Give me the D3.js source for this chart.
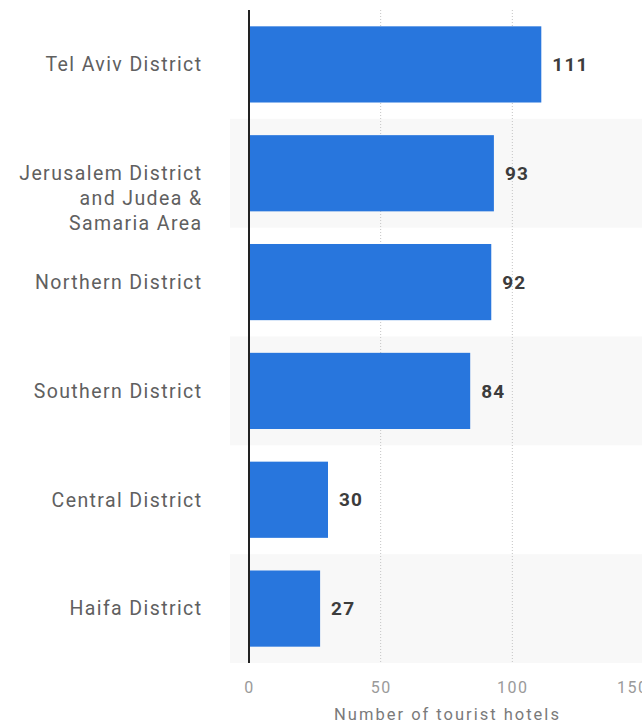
<!DOCTYPE html>
<html>
<head>
<meta charset="utf-8">
<script src="https://cdn.jsdelivr.net/npm/d3@7"></script>
<style>
  body { margin: 0; background: #fff; }
  svg { display: block; font-family: Roboto, "Noto Sans", sans-serif; }
</style>
</head>
<body>
<svg id="chart" width="642" height="723"></svg>
<script>
const districts = [
  ["Tel Aviv District"],
  ["Jerusalem District", "and Judea &", "Samaria Area"],
  ["Northern District"],
  ["Southern District"],
  ["Central District"],
  ["Haifa District"]
]
const hotels = [111, 93, 92, 84, 30, 27]
const xTicks = [0, 50, 100, 150]
const axisTitle = "Number of tourist hotels"

const svg = d3.select("#chart")
const plotLeft = 249, plotTop = 10, plotBottom = 663

const x = d3.scaleLinear().domain([0, 150]).range([plotLeft, 644])
const y = d3.scaleBand()
  .domain(d3.range(districts.length))
  .range([plotTop, plotBottom])
  .paddingInner(0.3)
  .paddingOuter(0.15)
const step = y.step()

// alternating row bands
svg.append("g")
  .selectAll("rect")
  .data(d3.range(districts.length).filter(i => i % 2 === 1))
  .enter()
  .append("rect")
  .attr("x", 230)
  .attr("y", i => y(i) - step * 0.15)
  .attr("width", 642 - 230)
  .attr("height", step)
  .attr("fill", "#f8f8f8")

// dotted gridlines
svg.append("g")
  .selectAll("line")
  .data(xTicks.slice(1))
  .enter()
  .append("line")
  .attr("x1", d => x(d))
  .attr("x2", d => x(d))
  .attr("y1", plotTop)
  .attr("y2", plotBottom)
  .attr("stroke", "#c4c4c4")
  .attr("stroke-width", 1)
  .attr("stroke-dasharray", "1,2")

// bars
svg.append("g")
  .selectAll("rect")
  .data(hotels)
  .enter()
  .append("rect")
  .attr("x", x(0))
  .attr("y", (d, i) => y(i))
  .attr("width", d => x(d) - x(0))
  .attr("height", y.bandwidth())
  .attr("fill", "#2876dd")

// value labels
svg.append("g")
  .selectAll("text")
  .data(hotels)
  .enter()
  .append("text")
  .attr("x", d => x(d) + 11)
  .attr("y", (d, i) => y(i) + y.bandwidth() / 2)
  .attr("dy", "0.35em")
  .attr("font-size", 19)
  .attr("font-weight", "bold")
  .attr("letter-spacing", 1.2)
  .attr("fill", "#3c3c3c")
  .text(d => d)

// category labels: first line at the bar centre, extra lines below it
const cat = svg.append("g")
  .selectAll("text")
  .data(districts)
  .enter()
  .append("text")
  .attr("text-anchor", "end")
  .attr("font-size", 19.5)
  .attr("letter-spacing", 1.4)
  .attr("fill", "#606060")
  .attr("y", (d, i) => y(i) + y.bandwidth() / 2)

cat.selectAll("tspan")
  .data(d => d)
  .enter()
  .append("tspan")
  .attr("x", 202.5)
  .attr("dy", (t, j) => j === 0 ? "0.35em" : "1.27em")
  .text(t => t)

// x axis
const xAxis = d3.axisBottom(x).tickValues(xTicks).tickSize(0).tickPadding(0)
const ax = svg.append("g")
  .attr("transform", "translate(0," + plotBottom + ")")
  .call(xAxis)
ax.select(".domain").remove()
ax.selectAll("text")
  .attr("y", 24)
  .attr("dy", "0.35em")
  .attr("font-size", 16)
  .attr("letter-spacing", 1.5)
  .attr("font-family", "Roboto, sans-serif")
  .attr("fill", "#9a9a9a")
// last label is pulled in so it ends at the plot edge
ax.selectAll("text")
  .filter(d => d === xTicks[xTicks.length - 1])
  .attr("text-anchor", "end")
  .attr("x", 4)

// y axis line
svg.append("line")
  .attr("x1", plotLeft)
  .attr("x2", plotLeft)
  .attr("y1", plotTop)
  .attr("y2", plotBottom)
  .attr("stroke", "#222")
  .attr("stroke-width", 2)

svg.append("text")
  .attr("x", (plotLeft + 644) / 2 + 1)
  .attr("y", 720)
  .attr("text-anchor", "middle")
  .attr("font-size", 16.5)
  .attr("letter-spacing", 2)
  .attr("fill", "#7a7a7a")
  .text(axisTitle)
</script>
</body>
</html>
